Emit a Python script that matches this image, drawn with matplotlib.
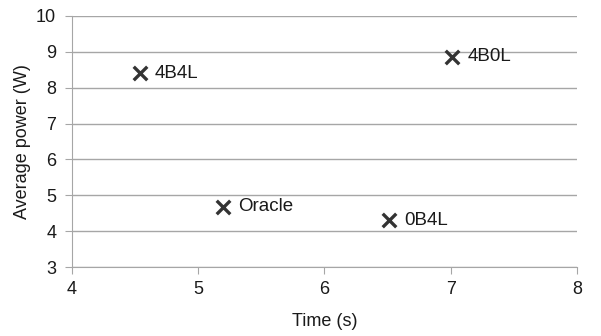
import matplotlib.pyplot as plt

plt.rcParams['font.family'] = ['Liberation Sans', 'DejaVu Sans']

names = ['4B4L', '4B0L', 'Oracle', '0B4L']
times = [4.54, 7.01, 5.20, 6.51]
powers = [8.41, 8.87, 4.68, 4.31]

fig = plt.figure(figsize=(6.01, 3.36), dpi=100)
ax = fig.add_axes([71.5 / 601, 1 - 267 / 336, (577 - 71.5) / 601, (267 - 16) / 336])

ax.scatter(times, powers, marker='x', s=95, linewidths=2.4, color='#333333', zorder=3)
for n, t, p in zip(names, times, powers):
    ax.annotate(n, (t, p), xytext=(11, 0), textcoords='offset points',
                va='center', ha='left', fontsize=13.5, color='#1a1a1a')

ax.set_xlim(4, 8)
ax.set_ylim(3, 10)
ax.set_xticks([4, 5, 6, 7, 8])
ax.set_yticks(range(3, 11))
ax.grid(axis='y', color='#a6a6a6', linewidth=1)
ax.set_axisbelow(True)
for s in ['top', 'right']:
    ax.spines[s].set_visible(False)
for s in ['left', 'bottom']:
    ax.spines[s].set_color('#a6a6a6')
ax.tick_params(colors='#a6a6a6', labelcolor='#1a1a1a', labelsize=13, length=5)
ax.tick_params(axis='y', pad=6)
ax.tick_params(axis='x', pad=5)
ax.set_xlabel('Time (s)', fontsize=13, color='#1a1a1a', labelpad=11)
ax.set_ylabel('Average power (W)', fontsize=13, color='#1a1a1a', labelpad=4)

fig.savefig('out.png', dpi=100)
